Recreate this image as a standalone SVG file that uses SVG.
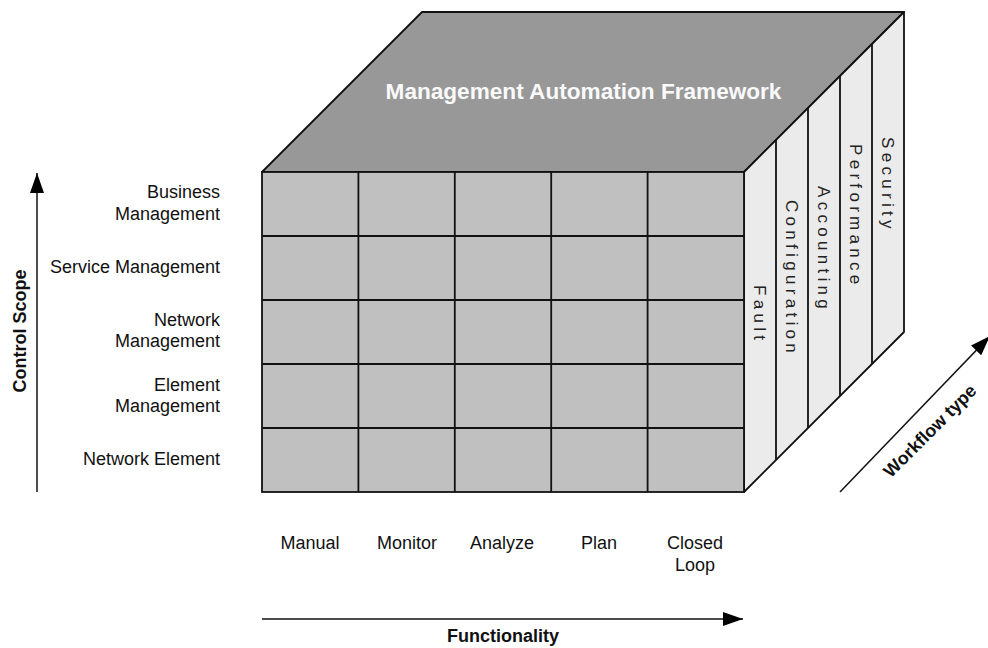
<svg xmlns="http://www.w3.org/2000/svg" width="988" height="648" viewBox="0 0 988 648">
<defs>
<style>
.lbl{font-family:"Liberation Sans",Arial,sans-serif;font-size:18px;fill:#111}
.bold{font-family:"Liberation Sans",Arial,sans-serif;font-size:18px;font-weight:bold;fill:#111}
.side{font-family:"Liberation Sans",Arial,sans-serif;font-size:17px;fill:#222;letter-spacing:4.3px}
.edge{stroke:#111;stroke-width:1.8;stroke-linejoin:round}
.cell{fill:#c0c0c0;stroke:#111;stroke-width:1.8}
.axis{stroke:#111;stroke-width:1.5;fill:none}
</style>
<marker id="ah" markerWidth="20" markerHeight="14" refX="20" refY="7" orient="auto" markerUnits="userSpaceOnUse">
<path d="M0,0 L20,7 L0,14 Z" fill="#000"/>
</marker>
</defs>
<rect width="988" height="648" fill="#fff"/>

<g id="top-face">
<polygon class="edge" points="262,172 422,12 904,12 744,172" fill="#989898"/>
<text x="583.5" y="99" text-anchor="middle" font-family="Liberation Sans, Arial, sans-serif" font-size="22.6" font-weight="bold" fill="#fafafa">Management Automation Framework</text>
</g>

<g id="side-face">
<polygon class="edge" points="744,172 904,12 904,332 744,492" fill="#ebebeb"/>
<line class="edge" x1="776" y1="140" x2="776" y2="460"/>
<line class="edge" x1="808" y1="108" x2="808" y2="428"/>
<line class="edge" x1="840" y1="76" x2="840" y2="396"/>
<line class="edge" x1="872" y1="44" x2="872" y2="364"/>
<text class="side" transform="translate(754,285) rotate(90)">Fault</text>
<text class="side" transform="translate(786,200) rotate(90)">Configuration</text>
<text class="side" transform="translate(818,186) rotate(90)">Accounting</text>
<text class="side" transform="translate(850,144) rotate(90)">Performance</text>
<text class="side" transform="translate(882,137) rotate(90)">Security</text>
</g>

<g id="front-face">
<rect class="cell" x="262" y="172" width="482" height="320"/>
<g class="edge">
<line x1="358.4" y1="172" x2="358.4" y2="492"/>
<line x1="454.8" y1="172" x2="454.8" y2="492"/>
<line x1="551.2" y1="172" x2="551.2" y2="492"/>
<line x1="647.6" y1="172" x2="647.6" y2="492"/>
<line x1="262" y1="236" x2="744" y2="236"/>
<line x1="262" y1="300" x2="744" y2="300"/>
<line x1="262" y1="364" x2="744" y2="364"/>
<line x1="262" y1="428" x2="744" y2="428"/>
</g>
</g>

<g id="row-labels" class="lbl" text-anchor="end">
<text x="220" y="198">Business</text>
<text x="220" y="220">Management</text>
<text x="220" y="273">Service Management</text>
<text x="220" y="326">Network</text>
<text x="220" y="347">Management</text>
<text x="220" y="391">Element</text>
<text x="220" y="412">Management</text>
<text x="220" y="465">Network Element</text>
</g>

<g id="column-labels" class="lbl" text-anchor="middle">
<text x="310" y="549">Manual</text>
<text x="407" y="549">Monitor</text>
<text x="502" y="549">Analyze</text>
<text x="599" y="549">Plan</text>
<text x="695" y="549">Closed</text>
<text x="695" y="571">Loop</text>
</g>

<g id="connectors">
<line class="axis" x1="37" y1="492" x2="37" y2="173" marker-end="url(#ah)"/>
<line class="axis" x1="262" y1="619" x2="743" y2="619" marker-end="url(#ah)"/>
<line class="axis" x1="840" y1="492" x2="990" y2="336" marker-end="url(#ah)"/>
</g>

<g id="axis-labels">
<text class="bold" text-anchor="middle" x="503" y="642">Functionality</text>
<text class="bold" text-anchor="middle" transform="translate(26,331) rotate(-90)">Control Scope</text>
<text class="bold" text-anchor="middle" transform="translate(930,431) rotate(-45)" y="6">Workflow type</text>
</g>
</svg>
